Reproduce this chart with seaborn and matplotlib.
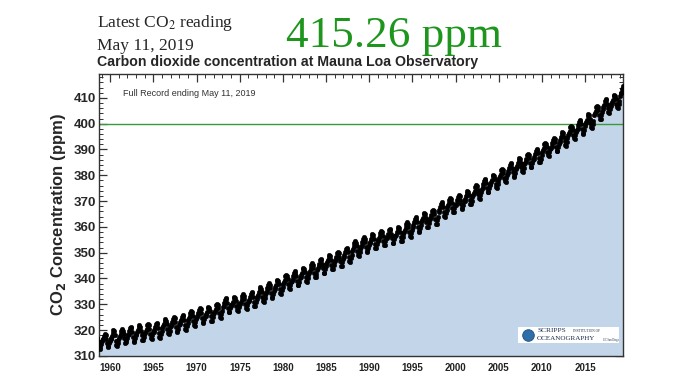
import numpy as np
import pandas as pd
import matplotlib
matplotlib.use("Agg")
import matplotlib.pyplot as plt
from matplotlib.ticker import MultipleLocator
from matplotlib.patches import Rectangle
import seaborn as sns

# monthly mean CO2 (ppm) at Mauna Loa; first value is March 1958
co2_1958_1969 = [
    315.7, 317.4, 317.5, 317.1, 315.9, 314.9, 313.2, 312.7, 313.3, 314.7,
    315.6, 316.4, 316.7, 317.7, 318.3, 318.2, 316.5, 314.8, 313.8, 313.3, 314.8, 315.6,
    316.4, 317.0, 317.6, 319.0, 320.0, 319.6, 318.2, 315.9, 314.2, 313.8, 315.0, 316.2,
    316.9, 317.7, 318.5, 319.5, 320.6, 319.8, 318.6, 316.8, 314.8, 315.4, 316.1, 317.0,
    317.9, 318.6, 319.5, 320.7, 321.3, 320.8, 319.3, 317.4, 315.8, 315.5, 316.9, 318.1,
    318.4, 319.1, 320.0, 321.2, 321.8, 321.3, 319.8, 317.9, 316.3, 316.0, 317.4, 318.6,
    319.0, 319.7, 320.6, 321.8, 322.4, 321.9, 320.4, 318.5, 316.9, 316.6, 318.0, 319.2,
    319.4, 320.1, 321.0, 322.2, 322.8, 322.3, 320.8, 318.9, 317.3, 317.0, 318.4, 319.6,
    320.8, 321.5, 322.4, 323.6, 324.2, 323.7, 322.2, 320.3, 318.7, 318.4, 319.8, 321.0,
    321.6, 322.3, 323.2, 324.4, 325.0, 324.5, 323.0, 321.1, 319.5, 319.2, 320.6, 321.8,
    322.4, 323.1, 324.0, 325.2, 325.8, 325.3, 323.8, 321.9, 320.3, 320.0, 321.4, 322.6,
    324.0, 324.7, 325.6, 326.8, 327.4, 326.9, 325.4, 323.5, 321.9, 321.6, 323.0, 324.2,
]
co2_1970s = [
    325.1, 325.8, 326.7, 327.9, 328.5, 328.0, 326.5, 324.6, 323.0, 322.7, 324.1, 325.3,
    325.4, 326.1, 327.1, 328.4, 329.0, 328.5, 327.2, 325.3, 323.7, 323.5, 325.0, 326.2,
    326.6, 327.3, 328.3, 329.6, 330.2, 329.7, 328.4, 326.5, 324.9, 324.7, 326.2, 327.4,
    328.8, 329.5, 330.5, 331.8, 332.4, 331.9, 330.6, 328.7, 327.1, 326.9, 328.4, 329.6,
    329.3, 330.0, 331.0, 332.3, 332.9, 332.4, 331.1, 329.2, 327.6, 327.4, 328.9, 330.1,
    330.2, 330.9, 331.9, 333.2, 333.8, 333.3, 332.0, 330.1, 328.5, 328.3, 329.8, 331.0,
    331.1, 331.8, 332.8, 334.1, 334.7, 334.2, 332.9, 331.0, 329.4, 329.2, 330.7, 331.9,
    332.9, 333.6, 334.6, 335.9, 336.5, 336.0, 334.7, 332.8, 331.2, 331.0, 332.5, 333.7,
    334.5, 335.2, 336.2, 337.5, 338.1, 337.6, 336.3, 334.4, 332.8, 332.6, 334.1, 335.3,
    335.9, 336.6, 337.6, 338.9, 339.5, 339.0, 337.7, 335.8, 334.2, 334.0, 335.5, 336.7,
]
co2_1980s = [
    337.9, 338.6, 339.6, 340.9, 341.5, 341.0, 339.7, 337.8, 336.2, 336.0, 337.5, 338.7,
    339.2, 339.9, 340.9, 342.2, 342.8, 342.3, 341.0, 339.1, 337.5, 337.3, 338.8, 340.0,
    340.6, 341.3, 342.3, 343.6, 344.2, 343.7, 342.4, 340.5, 338.9, 338.7, 340.2, 341.4,
    342.3, 343.0, 344.0, 345.3, 345.9, 345.4, 344.1, 342.2, 340.6, 340.4, 341.9, 343.1,
    344.0, 344.7, 345.7, 347.0, 347.6, 347.1, 345.8, 343.9, 342.3, 342.1, 343.6, 344.8,
    345.5, 346.2, 347.2, 348.5, 349.1, 348.6, 347.3, 345.4, 343.8, 343.6, 345.1, 346.3,
    346.7, 347.4, 348.4, 349.7, 350.3, 349.8, 348.5, 346.6, 345.0, 344.8, 346.3, 347.5,
    348.4, 349.1, 350.1, 351.4, 352.0, 351.5, 350.2, 348.3, 346.7, 346.5, 348.0, 349.2,
    350.8, 351.5, 352.5, 353.8, 354.4, 353.9, 352.6, 350.7, 349.1, 348.9, 350.4, 351.6,
    352.3, 353.0, 354.0, 355.3, 355.9, 355.4, 354.1, 352.2, 350.6, 350.4, 351.9, 353.1,
]
co2_1990s = [
    353.6, 354.3, 355.3, 356.6, 357.2, 356.7, 355.4, 353.5, 351.9, 351.7, 353.2, 354.4,
    354.8, 355.5, 356.5, 357.8, 358.4, 357.9, 356.6, 354.7, 353.1, 352.9, 354.4, 355.6,
    355.6, 356.3, 357.3, 358.6, 359.2, 358.7, 357.4, 355.5, 353.9, 353.7, 355.2, 356.4,
    356.3, 357.0, 358.0, 359.3, 359.9, 359.4, 358.1, 356.2, 354.6, 354.4, 355.9, 357.1,
    358.1, 358.8, 359.8, 361.1, 361.7, 361.2, 359.9, 358.0, 356.4, 356.2, 357.7, 358.9,
    360.1, 360.8, 361.8, 363.1, 363.7, 363.2, 361.9, 360.0, 358.4, 358.2, 359.7, 360.9,
    361.8, 362.5, 363.5, 364.8, 365.4, 364.9, 363.6, 361.7, 360.1, 359.9, 361.4, 362.6,
    363.0, 363.7, 364.7, 366.0, 366.6, 366.1, 364.8, 362.9, 361.3, 361.1, 362.6, 363.8,
    365.9, 366.6, 367.6, 368.9, 369.5, 369.0, 367.7, 365.8, 364.2, 364.0, 365.5, 366.7,
    367.6, 368.3, 369.3, 370.6, 371.2, 370.7, 369.4, 367.5, 365.9, 365.7, 367.2, 368.4,
]
co2_2000s = [
    368.5, 369.3, 370.3, 371.6, 372.3, 371.9, 370.6, 368.8, 367.3, 367.1, 368.6, 369.9,
    370.1, 370.9, 371.9, 373.2, 373.9, 373.5, 372.2, 370.4, 368.9, 368.7, 370.2, 371.5,
    372.3, 373.1, 374.1, 375.4, 376.1, 375.7, 374.4, 372.6, 371.1, 370.9, 372.4, 373.7,
    374.8, 375.6, 376.6, 377.9, 378.6, 378.2, 376.9, 375.1, 373.6, 373.4, 374.9, 376.2,
    376.5, 377.3, 378.3, 379.6, 380.3, 379.9, 378.6, 376.8, 375.3, 375.1, 376.6, 377.9,
    378.8, 379.6, 380.6, 381.9, 382.6, 382.2, 380.9, 379.1, 377.6, 377.4, 378.9, 380.2,
    380.9, 381.7, 382.7, 384.0, 384.7, 384.3, 383.0, 381.2, 379.7, 379.5, 381.0, 382.3,
    382.8, 383.6, 384.6, 385.9, 386.6, 386.2, 384.9, 383.1, 381.6, 381.4, 382.9, 384.2,
    384.6, 385.4, 386.4, 387.7, 388.4, 388.0, 386.7, 384.9, 383.4, 383.2, 384.7, 386.0,
    386.4, 387.2, 388.2, 389.5, 390.2, 389.8, 388.5, 386.7, 385.2, 385.0, 386.5, 387.8,
]
co2_2010s = [
    388.9, 389.7, 390.7, 392.0, 392.7, 392.3, 391.0, 389.2, 387.7, 387.5, 389.0, 390.3,
    390.7, 391.5, 392.5, 393.8, 394.5, 394.1, 392.8, 391.0, 389.5, 389.3, 390.8, 392.1,
    392.9, 393.7, 394.7, 396.0, 396.7, 396.3, 395.0, 393.2, 391.7, 391.5, 393.0, 394.3,
    395.5, 396.3, 397.3, 398.6, 399.3, 398.9, 397.6, 395.8, 394.3, 394.1, 395.6, 396.9,
    397.6, 398.4, 399.4, 400.7, 401.4, 401.0, 399.7, 397.9, 396.4, 396.2, 397.7, 399.0,
    399.8, 400.6, 401.6, 402.9, 403.6, 403.2, 401.9, 400.1, 398.6, 398.4, 399.9, 401.2,
    403.2, 404.0, 405.0, 406.3, 407.0, 406.6, 405.3, 403.5, 402.0, 401.8, 403.3, 404.6,
    405.6, 406.4, 407.4, 408.7, 409.4, 409.0, 407.7, 405.9, 404.4, 404.2, 405.7, 407.0,
    407.5, 408.3, 409.3, 410.6, 411.3, 410.9, 409.6, 407.8, 406.3, 406.1, 407.6, 408.9,
    410.8, 411.8, 412.0, 413.3, 414.7,
]

latest_value = "415.26 ppm"
latest_date = "May 11, 2019"

co2 = co2_1958_1969 + co2_1970s + co2_1980s + co2_1990s + co2_2000s + co2_2010s
dates = [1958 + (2 + i + 0.5) / 12 for i in range(len(co2))]
df = pd.DataFrame({"date": dates, "co2": co2})

sns.set_style("ticks")
plt.rcParams["font.family"] = ["Liberation Sans", "DejaVu Sans"]
plt.rcParams["mathtext.fontset"] = "custom"
plt.rcParams["mathtext.rm"] = "Liberation Sans"

fig = plt.figure(figsize=(6.78, 3.81), dpi=100)
ax = fig.add_axes([0.146, 0.066, 0.773, 0.740])

ax.fill_between(df["date"], 300, df["co2"], color="#c3d5e8", lw=0, zorder=1)
ax.axhline(400, color="#3a9a3a", lw=1.0, zorder=2)
sns.scatterplot(data=df, x="date", y="co2", ax=ax, s=11, color="black",
                edgecolor="black", linewidth=0.3, zorder=3, legend=False)

ax.set_xlim(1958.7, 2019.4)
ax.set_ylim(310, 419.3)
ax.xaxis.set_major_locator(MultipleLocator(5))
ax.xaxis.set_minor_locator(MultipleLocator(1))
ax.yaxis.set_major_locator(MultipleLocator(10))
ax.yaxis.set_minor_locator(MultipleLocator(2))
ax.set_xticks(range(1960, 2020, 5))
ax.tick_params(which="both", direction="in", top=True, right=True, color="#333333")
ax.tick_params(which="major", length=6, width=0.9)
ax.tick_params(which="minor", length=3, width=0.7)
ax.tick_params(axis="x", which="major", labelsize=7, pad=5, labelcolor="#222222")
ax.tick_params(axis="y", which="major", labelsize=9.5, pad=2)
for lab in ax.get_xticklabels() + ax.get_yticklabels():
    lab.set_fontweight("bold")
for sp in ax.spines.values():
    sp.set_linewidth(1.0)
    sp.set_color("#333333")

ax.set_xlabel("")
ax.set_ylabel(r"CO$_\mathbf{2}$ Concentration (ppm)", fontsize=12, fontweight="bold",
              labelpad=4)

ax.text(0.045, 0.945, "Full Record ending " + latest_date, transform=ax.transAxes,
        fontsize=6.5, color="#333333", va="top")

# Scripps logo stand-in
ax.add_patch(Rectangle((0.80, 0.045), 0.193, 0.058, transform=ax.transAxes,
                       fc="white", ec="none", zorder=5))
ax.scatter([0.818], [0.074], transform=ax.transAxes, s=70, color="#2f6ea8", zorder=6,
           edgecolor="#1d4f80", linewidth=0.6)
ax.text(0.836, 0.089, "SCRIPPS", transform=ax.transAxes, fontsize=5.3,
        family="Liberation Serif", color="#1b2a4a", va="center", zorder=7)
ax.text(0.905, 0.089, "INSTITUTION OF", transform=ax.transAxes, fontsize=2.5,
        family="Liberation Serif", color="#1b2a4a", va="center", zorder=7)
ax.text(0.836, 0.061, "OCEANOGRAPHY", transform=ax.transAxes, fontsize=5.1,
        family="Liberation Serif", color="#1b2a4a", va="center", zorder=7)
ax.text(0.962, 0.058, "UC San Diego", transform=ax.transAxes, fontsize=2.0,
        family="Liberation Serif", color="#1b2a4a", va="center", zorder=7)

fig.text(97 / 678, 1 - 27 / 381, "Latest CO$_2$ reading", family="Liberation Serif",
         fontsize=12.5, va="baseline", math_fontfamily="stix")
fig.text(97 / 678, 1 - 50 / 381, latest_date, family="Liberation Serif",
         fontsize=12.5, va="baseline")
fig.text(286 / 678, 1 - 47 / 381, latest_value, family="Liberation Serif",
         fontsize=32.5, color="#1e961e", va="baseline")
fig.text(97 / 678, 1 - 66 / 381, "Carbon dioxide concentration at Mauna Loa Observatory",
         fontsize=10.2, fontweight="bold", va="baseline")

fig.savefig("out.png", dpi=100)
